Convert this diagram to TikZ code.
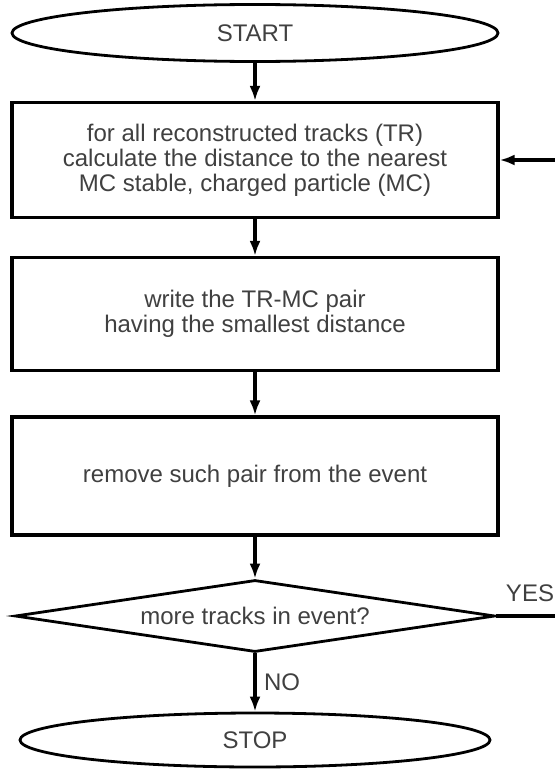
\documentclass[tikz,border=0pt]{standalone}
\usepackage{fontspec}
\setmainfont{Liberation Sans}
\usetikzlibrary{shapes.geometric,arrows.meta}
\definecolor{txtgray}{RGB}{64,64,64}
\begin{document}
\begin{tikzpicture}
  [x=0.5pt,y=-0.5pt,
   every node/.style={text=txtgray,font=\fontsize{12}{12.6}\selectfont,align=center},
   term/.style={ellipse,draw=black,line width=1.4pt,inner sep=0pt},
   proc/.style={rectangle,draw=black,line width=1.6pt,minimum width=243pt,inner sep=0pt},
   test/.style={diamond,draw=black,line width=1.4pt,aspect=6.67,inner sep=0pt,minimum width=240pt,minimum height=36pt},
   flow/.style={-{Latex[length=7.5pt,width=5.5pt]},line width=1.6pt}]
  \useasboundingbox (0,0) rectangle (555,771);
  \node[term,minimum width=243pt,minimum height=28.5pt] (start) at (255,33) {START};
  \node[proc,minimum height=57.5pt] (find) at (255,160) {for all reconstructed tracks (TR)\\calculate the distance to the nearest\\MC stable, charged particle (MC)};
  \node[proc,minimum height=56.5pt] (write) at (255,314) {write the TR-MC pair\\having the smallest distance};
  \node[proc,minimum height=59pt] (remove) at (255,476) {remove such pair from the event};
  \node[test] (more) at (255,616) {more tracks in event?};
  \node[term,minimum width=235pt,minimum height=27pt] (stop) at (255,740) {STOP};
  \node (no) at (282,682) {NO};
  \node (yes) at (530,593) {YES};
  \coordinate (yesend) at (556,616);
  \coordinate (backin) at (556,160);

  \foreach \from/\to in {start/find, find/write, write/remove, remove/more, more/stop}
    \draw[flow] (\from) -- (\to);
  \draw[line width=1.6pt] (more.east) -- (yesend);
  \draw[flow] (backin) -- (find.east);

\end{tikzpicture}
\end{document}
